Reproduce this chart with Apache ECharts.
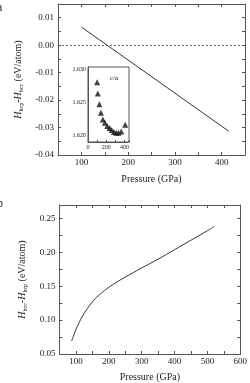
<!DOCTYPE html>
<html>
<head>
<meta charset="utf-8">
<script src="https://cdn.jsdelivr.net/npm/echarts@6/dist/echarts.min.js"></script>
<style>
  html, body { margin: 0; padding: 0; background: #fff; }
  #chart { width: 250px; height: 383px; }
</style>
</head>
<body>
<div id="chart"></div>
<script>
// panel a: H_hcp - H_bcc vs pressure
const topPressure = [100, 155, 415];
const topDeltaH = [0.0066, 0, -0.0313];

// inset of panel a: c/a ratio
const insetPressure = [100, 108, 125, 142, 163, 186, 211, 237, 260, 285, 310, 335, 365, 408];
const insetCa = [1.6280, 1.6263, 1.6247, 1.6234, 1.6224, 1.6219, 1.6214, 1.6211, 1.6208, 1.6205, 1.6204, 1.6204, 1.6206, 1.6216];

// panel b: H_bcc - H_hcp vs pressure
const botPressure = [87, 100, 120, 150, 175, 200, 225, 250, 300, 350, 400, 450, 500, 520];
const botDeltaH = [0.069, 0.086, 0.106, 0.127, 0.139, 0.1485, 0.1565, 0.1635, 0.177, 0.190, 0.204, 0.218, 0.232, 0.238];

const FONT = '"Liberation Serif", "DejaVu Serif", serif';
const INK = '#222';
const FRAME = '#555';

function onStep(v, step) {
  const k = v / step;
  return Math.abs(k - Math.round(k)) < 1e-6;
}
function fixed(v, d) {
  const p = Math.pow(10, d);
  return (Math.round(v * p) / p).toFixed(d);
}

const nameRich = {
  i: { fontFamily: FONT, fontStyle: 'italic', fontSize: 10, color: INK, lineHeight: 12 },
  s: { fontFamily: FONT, fontSize: 6, color: INK, verticalAlign: 'bottom', lineHeight: 12, padding: [3, 0, 0, 0] },
  t: { fontFamily: FONT, fontSize: 10, color: INK, lineHeight: 12 }
};

function mainAxisX(grid, min, max, step, labelStep, extra) {
  return Object.assign({
    type: 'value', gridIndex: grid, min: min, max: max, interval: step,
    position: 'bottom',
    axisLine: { show: true, onZero: false, lineStyle: { color: FRAME, width: 1 } },
    axisTick: { show: true, inside: true, length: 3, lineStyle: { color: FRAME } },
    splitLine: { show: false },
    axisLabel: {
      show: true, margin: 3, fontFamily: FONT, fontSize: 9, color: INK,
      formatter: v => onStep(v, labelStep) ? String(Math.round(v)) : ''
    },
    nameLocation: 'middle',
    nameTextStyle: { fontFamily: FONT, fontSize: 10, color: INK }
  }, extra || {});
}
function mirrorX(grid, min, max, step) {
  return {
    type: 'value', gridIndex: grid, min: min, max: max, interval: step, position: 'top',
    axisLine: { show: true, onZero: false, lineStyle: { color: FRAME, width: 1 } },
    axisTick: { show: true, inside: true, length: 3, lineStyle: { color: FRAME } },
    axisLabel: { show: false }, splitLine: { show: false }
  };
}
function mainAxisY(grid, min, max, step, labelStep, digits, extra) {
  return Object.assign({
    type: 'value', gridIndex: grid, min: min, max: max, interval: step,
    position: 'left',
    axisLine: { show: true, onZero: false, lineStyle: { color: FRAME, width: 1 } },
    axisTick: { show: true, inside: true, length: 3, lineStyle: { color: FRAME } },
    splitLine: { show: false },
    axisLabel: {
      show: true, margin: 4, fontFamily: FONT, fontSize: 9, color: INK,
      formatter: v => onStep(v, labelStep) ? fixed(v, digits) : ''
    },
    nameLocation: 'middle', nameRotate: 90,
    nameTextStyle: { rich: nameRich }
  }, extra || {});
}
function mirrorY(grid, min, max, step) {
  return {
    type: 'value', gridIndex: grid, min: min, max: max, interval: step, position: 'right',
    axisLine: { show: true, onZero: false, lineStyle: { color: FRAME, width: 1 } },
    axisTick: { show: true, inside: true, length: 3, lineStyle: { color: FRAME } },
    axisLabel: { show: false }, splitLine: { show: false }
  };
}

const chart = echarts.init(document.getElementById('chart'), null, { renderer: 'canvas' });

// axis order: x[0] a-bottom, x[1] a-top, x[2] inset, x[3] b-bottom, x[4] b-top
//             y[0] a-left,   y[1] a-right, y[2] inset, y[3] b-left, y[4] b-right
const option = {
  animation: false,
  backgroundColor: '#fff',
  grid: [
    { left: 58, right: 5, top: 4, height: 151 },
    { left: 88, width: 41, top: 67, height: 75, show: true, backgroundColor: '#fff', borderColor: FRAME, borderWidth: 1 },
    { left: 59.5, right: 3, top: 205, bottom: 28.5 }
  ],
  xAxis: [
    mainAxisX(0, 50, 450, 50, 100, { name: 'Pressure (GPa)', nameGap: 19 }),
    mirrorX(0, 50, 450, 50),
    {
      type: 'value', gridIndex: 1, min: 0, max: 450, interval: 100,
      axisLine: { show: true, onZero: false, lineStyle: { color: FRAME, width: 1 } },
      axisTick: { show: true, inside: true, length: 2, lineStyle: { color: FRAME } },
      splitLine: { show: false },
      axisLabel: {
        margin: 2, fontFamily: FONT, fontSize: 6, color: INK,
        formatter: v => onStep(v, 200) ? String(Math.round(v)) : ''
      }
    },
    mainAxisX(2, 50, 600, 50, 100, { name: 'Pressure (GPa)', nameGap: 18 }),
    mirrorX(2, 50, 600, 50)
  ],
  yAxis: [
    mainAxisY(0, -0.04, 0.015, 0.005, 0.01, 2, {
      name: '{i|H}{s|hcp}{t|-}{i|H}{s|bcc}{t| (eV/atom)}', nameGap: 30
    }),
    mirrorY(0, -0.04, 0.015, 0.005),
    {
      type: 'value', gridIndex: 1, min: 1.619, max: 1.6303, interval: 0.001,
      axisLine: { show: true, onZero: false, lineStyle: { color: FRAME, width: 1 } },
      axisTick: { show: false },
      splitLine: { show: false },
      axisLabel: {
        margin: 2, fontFamily: FONT, fontSize: 6, color: INK,
        formatter: v => onStep(v, 0.005) ? fixed(v, 3) : ''
      }
    },
    mainAxisY(2, 0.05, 0.27, 0.025, 0.05, 2, {
      name: '{i|H}{s|bcc}{t|-}{i|H}{s|hcp}{t| (eV/atom)}', nameGap: 24
    }),
    mirrorY(2, 0.05, 0.27, 0.025)
  ],
  graphic: [
    { type: 'text', left: -3, top: 2, style: { text: 'a', fontFamily: FONT, fontSize: 12, fill: INK } },
    { type: 'text', left: -3, top: 198, style: { text: 'b', fontFamily: FONT, fontSize: 12, fill: INK } },
    { type: 'text', left: 110, top: 75, z: 100, style: { text: 'c/a', fontFamily: FONT, fontStyle: 'italic', fontSize: 7, fill: INK } }
  ],
  series: [
    {
      type: 'line', xAxisIndex: 0, yAxisIndex: 0,
      data: topPressure.map((p, i) => [p, topDeltaH[i]]),
      showSymbol: false, lineStyle: { color: '#333', width: 1 },
      markLine: {
        silent: true, symbol: 'none', label: { show: false },
        lineStyle: { type: [2, 2], color: '#444', width: 0.8 },
        data: [{ yAxis: 0 }]
      }
    },
    {
      type: 'scatter', xAxisIndex: 2, yAxisIndex: 2,
      data: insetPressure.map((p, i) => [p, insetCa[i]]),
      symbol: 'triangle', symbolSize: 6, itemStyle: { color: '#111' }, z: 10
    },
    {
      type: 'line', xAxisIndex: 3, yAxisIndex: 3,
      data: botPressure.map((p, i) => [p, botDeltaH[i]]),
      showSymbol: false, smooth: 0.3,
      lineStyle: { color: '#333', width: 1 }
    }
  ]
};

chart.setOption(option);
</script>
</body>
</html>
